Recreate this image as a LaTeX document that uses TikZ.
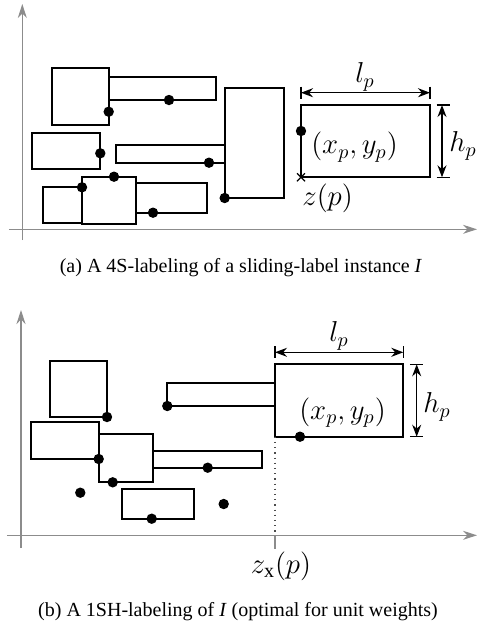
\documentclass[tikz,border=0pt]{standalone}
\usepackage{fontspec}
\setmainfont{Liberation Serif}
\usetikzlibrary{arrows.meta,calc}
\definecolor{axisgrey}{HTML}{8C8C8C}
\tikzset{
  box/.style={draw=black,line width=1pt},
  axis/.style={draw=axisgrey,line width=0.6pt,-{Stealth[length=7pt,width=4.5pt]}},
  dimarrow/.style={line width=0.7pt,{Stealth[length=6pt,width=4.5pt]}-{Stealth[length=6pt,width=4.5pt]}},
  dimtick/.style={line width=0.7pt},
  mathlbl/.style={font=\Large,inner sep=0pt},
  caption/.style={font=\normalsize,inner sep=0pt}
}

\begin{document}
\begin{tikzpicture}[x=0.5pt,y=-0.5pt]
\useasboundingbox (0,0) rectangle (477,629);

% (a) 4S-labeling
\draw[axis] (22.3,240) -- (22.3,4);
\draw[axis] (9,229.3) -- (477,229.3);
\foreach \xa/\ya/\xb/\yb in {51.7/68.3/108.7/124.7, 108.7/77.3/216/100,
    32.3/132.7/100.3/169.3, 116/145.3/224.7/162.7, 224.7/87.7/284.3/198,
    42.7/187.3/82/222.7, 82/176.7/136/224, 136/183.3/207/212.7}
  \draw[box] (\xa,\ya) rectangle (\xb,\yb);
\foreach \px/\py in {108.7/111.7, 169/100, 100.3/153.3, 209/162.7, 224.7/198,
    82/187.3, 114/176.7, 153/212.7}
  \fill (\px,\py) circle[radius=2.6pt];
\coordinate (pa-sw) at (301,177.3);
\coordinate (pa-ne) at (430,105);
\draw[box] (pa-sw) rectangle (pa-ne);
\fill (301,131) circle[radius=2.6pt];
\draw[line width=0.6pt] ($(pa-sw)+(-4,-4)$) -- ($(pa-sw)+(4,4)$)
  ($(pa-sw)+(-4,4)$) -- ($(pa-sw)+(4,-4)$);
\draw[dimtick] (pa-sw |- 0,86.7) -- (pa-sw |- 0,99.3);
\draw[dimtick] (pa-ne |- 0,86.7) -- (pa-ne |- 0,99.3);
\draw[dimarrow] (pa-sw |- 0,92.7) -- (pa-ne |- 0,92.7);
\draw[dimtick] (436.7,105) -- (450,105);
\draw[dimtick] (436.7,177.3) -- (450,177.3);
\draw[dimarrow] (442,105) -- (442,177.3);
\node[mathlbl] (la) at (365,77) {$l_p$};
\node[mathlbl] (ha) at (463,146) {$h_p$};
\node[mathlbl] (xya) at (354.5,147) {$(x_p,y_p)$};
\node[mathlbl,anchor=north west] (za) at (302,183) {$z(p)$};
\node[caption] (capa) at (241,268) {(a) A 4S-labeling of a sliding-label instance \textit{I}};

% (b) 1SH-labeling
\draw[axis] (21,548) -- (21,310);
\draw[axis] (7,535.3) -- (477,535.3);
\foreach \xa/\ya/\xb/\yb in {50.3/361/107/417, 30.7/421.7/98.7/459,
    98.7/434.3/152.7/482.3, 152.7/451/261.7/467.7, 122.3/489/193.7/518.7,
    167.3/383.3/275/406}
  \draw[box] (\xa,\ya) rectangle (\xb,\yb);
\foreach \px/\py in {107/417, 98.7/459, 112.7/482.3, 207.7/467.7, 151.7/518.7,
    80.3/492.7, 223.7/504, 167.3/406}
  \fill (\px,\py) circle[radius=2.6pt];
\coordinate (pb-sw) at (275,436.7);
\coordinate (pb-ne) at (403.3,364.3);
\draw[box] (pb-sw) rectangle (pb-ne);
\fill (300,436.7) circle[radius=2.6pt];
\coordinate (zb) at (275,548.5);
\draw[dotted,line width=0.6pt,black!70] (pb-sw) -- (pb-sw |- 0,535.3);
\draw[axisgrey,line width=0.6pt] (pb-sw |- 0,535.3) -- (zb);
\draw[dimtick] (pb-sw |- 0,346) -- (pb-sw |- 0,358.3);
\draw[dimtick] (pb-ne |- 0,346) -- (pb-ne |- 0,358.3);
\draw[dimarrow] (pb-sw |- 0,352.3) -- (pb-ne |- 0,352.3);
\draw[dimtick] (410,364.3) -- (423.3,364.3);
\draw[dimtick] (410,436.7) -- (423.3,436.7);
\draw[dimarrow] (416.7,364.3) -- (416.7,436.7);
\node[mathlbl] (lb) at (339,336) {$l_p$};
\node[mathlbl] (hb) at (437,407) {$h_p$};
\node[mathlbl] (xyb) at (342.5,412.5) {$(x_p,y_p)$};
\node[mathlbl,anchor=north] (zxb) at ($(zb)+(6,3)$) {$z_{\mathrm{x}}(p)$};
\node[caption] (capb) at (238,612) {(b) A 1SH-labeling of \textit{I} (optimal for unit weights)};
\end{tikzpicture}
\end{document}
